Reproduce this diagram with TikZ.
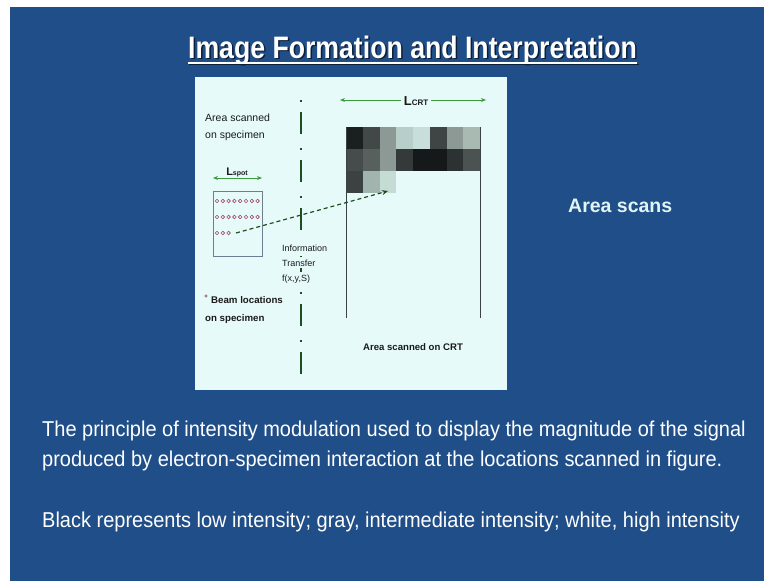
\documentclass[tikz,border=0pt]{standalone}
\usepackage{fontspec}
\setmainfont{Liberation Sans}
\newfontfamily\titlefont[FakeStretch=0.86]{Liberation Sans}
\newfontfamily\bodyfont[FakeStretch=0.93]{Liberation Sans}
\newfontfamily\figfont{Liberation Sans}
\usetikzlibrary{arrows.meta}
\definecolor{slideblue}{HTML}{1F4E88}
\definecolor{panel}{HTML}{E6FAFA}
\definecolor{figtext}{HTML}{1A1A1A}
\definecolor{greenarr}{HTML}{3E9A3E}
\definecolor{darkgreen}{HTML}{1E4E20}
\definecolor{markc}{HTML}{A04A6A}
\definecolor{boxc}{HTML}{6E7E90}
\definecolor{crtline}{HTML}{3A4242}
\definecolor{shadowc}{HTML}{0B1E3A}
\definecolor{areasc}{HTML}{E0F6F6}
\definecolor{ca1}{HTML}{1A1F1F}\definecolor{ca2}{HTML}{424848}\definecolor{ca3}{HTML}{8C9994}\definecolor{ca4}{HTML}{B8CEC8}
\definecolor{ca5}{HTML}{C8DEDA}\definecolor{ca6}{HTML}{3F4444}\definecolor{ca7}{HTML}{8C9994}\definecolor{ca8}{HTML}{A8BAB2}
\definecolor{cb1}{HTML}{464C4C}\definecolor{cb2}{HTML}{58605E}\definecolor{cb3}{HTML}{8C9994}\definecolor{cb4}{HTML}{343A3A}
\definecolor{cb5}{HTML}{151919}\definecolor{cb6}{HTML}{151919}\definecolor{cb7}{HTML}{2C3131}\definecolor{cb8}{HTML}{4B5252}
\definecolor{cc1}{HTML}{3C4242}\definecolor{cc2}{HTML}{A2B4AE}\definecolor{cc3}{HTML}{C4DCD4}
\begin{document}
\begin{tikzpicture}[x=1pt,y=-1pt,
  figlabel/.style={anchor=base west, inner sep=0pt, text=figtext, font=\figfont\fontsize{10.5}{12}\selectfont},
  bodyline/.style={anchor=base west, inner sep=0pt, text=white, font=\bodyfont\fontsize{21.5}{23}\selectfont},
  greenarrow/.style={greenarr, line width=1pt, {Stealth[length=5pt,width=4pt]}-{Stealth[length=5pt,width=4pt]}},
  beammark/.style={circle, draw=markc, line width=0.6pt, minimum size=3.6pt, inner sep=0pt},
  transfer/.style={darkgreen, line width=1.2pt, dash pattern=on 4pt off 3pt, -{Stealth[length=6pt,width=5pt]}},
  axisline/.style={darkgreen, line width=1.4pt, dash pattern=on 2pt off 10pt on 22pt off 14pt}
]
\useasboundingbox (0,0) rectangle (764,581);
\fill[white] (0,0) rectangle (764,581);
\fill[slideblue] (10,7) rectangle (764,581);
\fill[panel] (195,77) rectangle (507,390);

% title
\node[anchor=base, inner sep=0pt, text=shadowc, font=\titlefont\bfseries\fontsize{31}{33}\selectfont] (titleshadow) at (414,59.5) {Image Formation and Interpretation};
\node[anchor=base, inner sep=0pt, text=white, font=\titlefont\bfseries\fontsize{31}{33}\selectfont] (title) at (412.5,58) {Image Formation and Interpretation};
\draw[shadowc, line width=1.6pt] ([xshift=1.5pt,yshift=-6.5pt]title.base west) -- ([xshift=1.5pt,yshift=-6.5pt]title.base east);
\draw[white, line width=1.6pt] ([yshift=-5pt]title.base west) -- ([yshift=-5pt]title.base east);

% area scans
\node[anchor=base west, inner sep=0pt, text=areasc, font=\figfont\bfseries\fontsize{19.5}{22}\selectfont] (areascans) at (568,212) {Area scans};

% body text
\node[bodyline] (line1) at (42,436) {The principle of intensity modulation used to display the magnitude of the signal};
\node[bodyline] (line2) at (42,466) {produced by electron-specimen interaction at the locations scanned in figure.};
\node[bodyline] (line3) at (42,527) {Black represents low intensity; gray, intermediate intensity; white, high intensity};

% dash-dot axis
\coordinate (axtop) at (301,100);
\coordinate (axbot) at (301,388);
\draw[axisline] (axtop) -- (axbot);

% CRT grid
\foreach \c [count=\i from 0] in {ca1,ca2,ca3,ca4,ca5,ca6,ca7,ca8}
  \fill[\c] (346+\i*16.75,127) rectangle ++(16.75,22);
\foreach \c [count=\i from 0] in {cb1,cb2,cb3,cb4,cb5,cb6,cb7,cb8}
  \fill[\c] (346+\i*16.75,149) rectangle ++(16.75,22);
\foreach \c [count=\i from 0] in {cc1,cc2,cc3}
  \fill[\c] (346+\i*16.75,171) rectangle ++(16.75,22);
\coordinate (crttl) at (346,127);
\coordinate (crtbl) at (346,318);
\coordinate (crttr) at (480,127);
\coordinate (crtbr) at (480,318);
\draw[crtline, line width=1pt] (crttl) -- (crtbl);
\draw[crtline, line width=1pt] (crttr) -- (crtbr);

% L_CRT
\coordinate (lcrtl) at (340,100);
\coordinate (lcrtr) at (486,100);
\draw[greenarrow] (lcrtl) -- (lcrtr);
\node[fill=panel, inner xsep=3pt, inner ysep=1pt, text=figtext] (lcrt) at (416,101) {\figfont\bfseries\fontsize{13}{14}\selectfont L\fontsize{8}{9}\selectfont CRT};

% specimen box
\draw[boxc, line width=1pt] (213,191) rectangle (262,256);
\coordinate (specbox) at (213,191);
\foreach \k in {0,...,7} \node[beammark] (ma\k) at (217+\k*5.8,201) {};
\foreach \k in {0,...,7} \node[beammark] (mb\k) at (217+\k*5.8,217) {};
\foreach \k in {0,...,2} \node[beammark] (mc\k) at (217+\k*5.8,233) {};

% L_spot
\coordinate (lspotl) at (213,178);
\coordinate (lspotr) at (262,178);
\draw[greenarrow] (lspotl) -- (lspotr);
\node[anchor=base, inner sep=0pt, text=figtext] (lspot) at (237,175) {\figfont\bfseries\fontsize{11}{12}\selectfont L\fontsize{7}{8}\selectfont spot};

% transfer arrow
\coordinate (beamstart) at (236,233);
\coordinate (crtpix) at (388,191);
\draw[transfer] (beamstart) -- (crtpix);

% labels
\node[figlabel] (as1) at (205,121) {Area scanned};
\node[figlabel] (as2) at (205,138) {on specimen};
\node[figlabel, font=\figfont\fontsize{9}{10}\selectfont, fill=panel, inner xsep=1pt, inner ysep=2pt] (it1) at (281,251) {Information};
\node[figlabel, font=\figfont\fontsize{9}{10}\selectfont, fill=panel, inner xsep=1pt, inner ysep=2pt] (it2) at (281,266) {Transfer};
\node[figlabel, font=\figfont\fontsize{9}{10}\selectfont, fill=panel, inner xsep=1pt, inner ysep=2pt] (it3) at (281,281) {f(x,y,S)};
\node[beammark, minimum size=2.6pt] (legmark) at (206,296) {};
\node[figlabel, font=\figfont\bfseries\fontsize{9.7}{11}\selectfont] (bl1) at (211,303) {Beam locations};
\node[figlabel, font=\figfont\bfseries\fontsize{9.7}{11}\selectfont] (bl2) at (205,321) {on specimen};
\node[anchor=base, inner sep=0pt, text=figtext, font=\figfont\bfseries\fontsize{9.6}{11}\selectfont] (crtlabel) at (413,350) {Area scanned on CRT};
\end{tikzpicture}
\end{document}
